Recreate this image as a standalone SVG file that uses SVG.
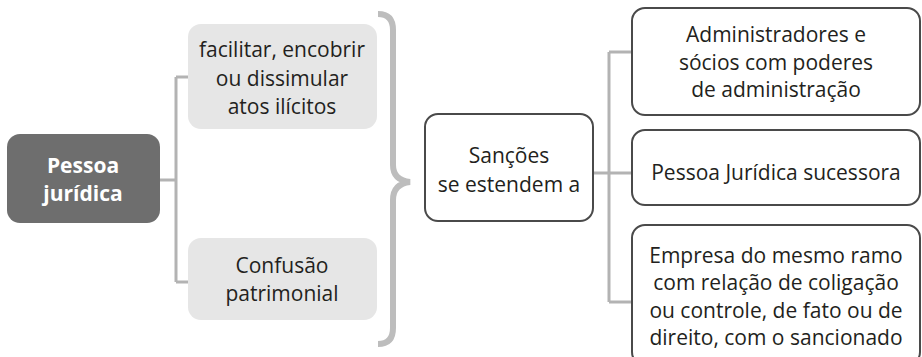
<svg xmlns="http://www.w3.org/2000/svg" width="922" height="357" viewBox="0 0 922 357">
<style>
.t{font-family:"Open Sans","Noto Sans",sans-serif;font-size:21px;fill:#231f20;text-anchor:middle}
.b{font-weight:bold;fill:#ffffff}
.gray{fill:#e6e6e6;stroke:none}
.wb{fill:#ffffff;stroke:#4a4a4a;stroke-width:2}
.c{fill:none;stroke:#b3b3b3;stroke-width:3}
</style>
<rect width="922" height="357" fill="#ffffff"/>
<g id="connectors">
<path class="c" d="M160 180 H176 M176 77 V282 M176 77 H188 M176 282 H188"/>
<path class="c" d="M593 173 H609 M609 52 V302 M609 52 H631 M609 173 H631 M609 302 H631"/>
<path id="brace" d="M378 14 Q393 14 393 30 V165 Q393 180 410 182 Q393 184 393 200 V328 Q393 344 378 344" fill="none" stroke="#bdbdbd" stroke-width="6"/>
</g>
<g id="pessoa">
<rect x="7" y="134" width="153" height="89" rx="13" fill="#6e6e6e"/>
<text class="t b" x="83" y="173">Pessoa</text>
<text class="t b" x="83" y="201">jurídica</text>
</g>
<g id="facilitar">
<rect class="gray" x="188" y="24" width="189" height="105" rx="13"/>
<text class="t" x="282" y="57">facilitar, encobrir</text>
<text class="t" x="282" y="86">ou dissimular</text>
<text class="t" x="282" y="114">atos ilícitos</text>
</g>
<g id="confusao">
<rect class="gray" x="188" y="238" width="189" height="82" rx="13"/>
<text class="t" x="282" y="273">Confusão</text>
<text class="t" x="282" y="301">patrimonial</text>
</g>
<g id="sancoes">
<rect class="wb" x="425" y="114" width="168" height="107" rx="13"/>
<text class="t" x="509" y="163">Sanções</text>
<text class="t" x="509" y="192">se estendem a</text>
</g>
<g id="administradores">
<rect class="wb" x="632" y="8" width="288" height="107" rx="13"/>
<text class="t" x="776" y="42">Administradores e</text>
<text class="t" x="776" y="70">sócios com poderes</text>
<text class="t" x="776" y="97">de administração</text>
</g>
<g id="sucessora">
<rect class="wb" x="632" y="130" width="288" height="75" rx="13"/>
<text class="t" x="776" y="180">Pessoa Jurídica sucessora</text>
</g>
<g id="empresa">
<rect class="wb" x="632" y="225" width="288" height="140" rx="13"/>
<text class="t" x="776" y="263">Empresa do mesmo ramo</text>
<text class="t" x="776" y="290">com relação de coligação</text>
<text class="t" x="776" y="318">ou controle, de fato ou de</text>
<text class="t" x="776" y="345">direito, com o sancionado</text>
</g>
</svg>
